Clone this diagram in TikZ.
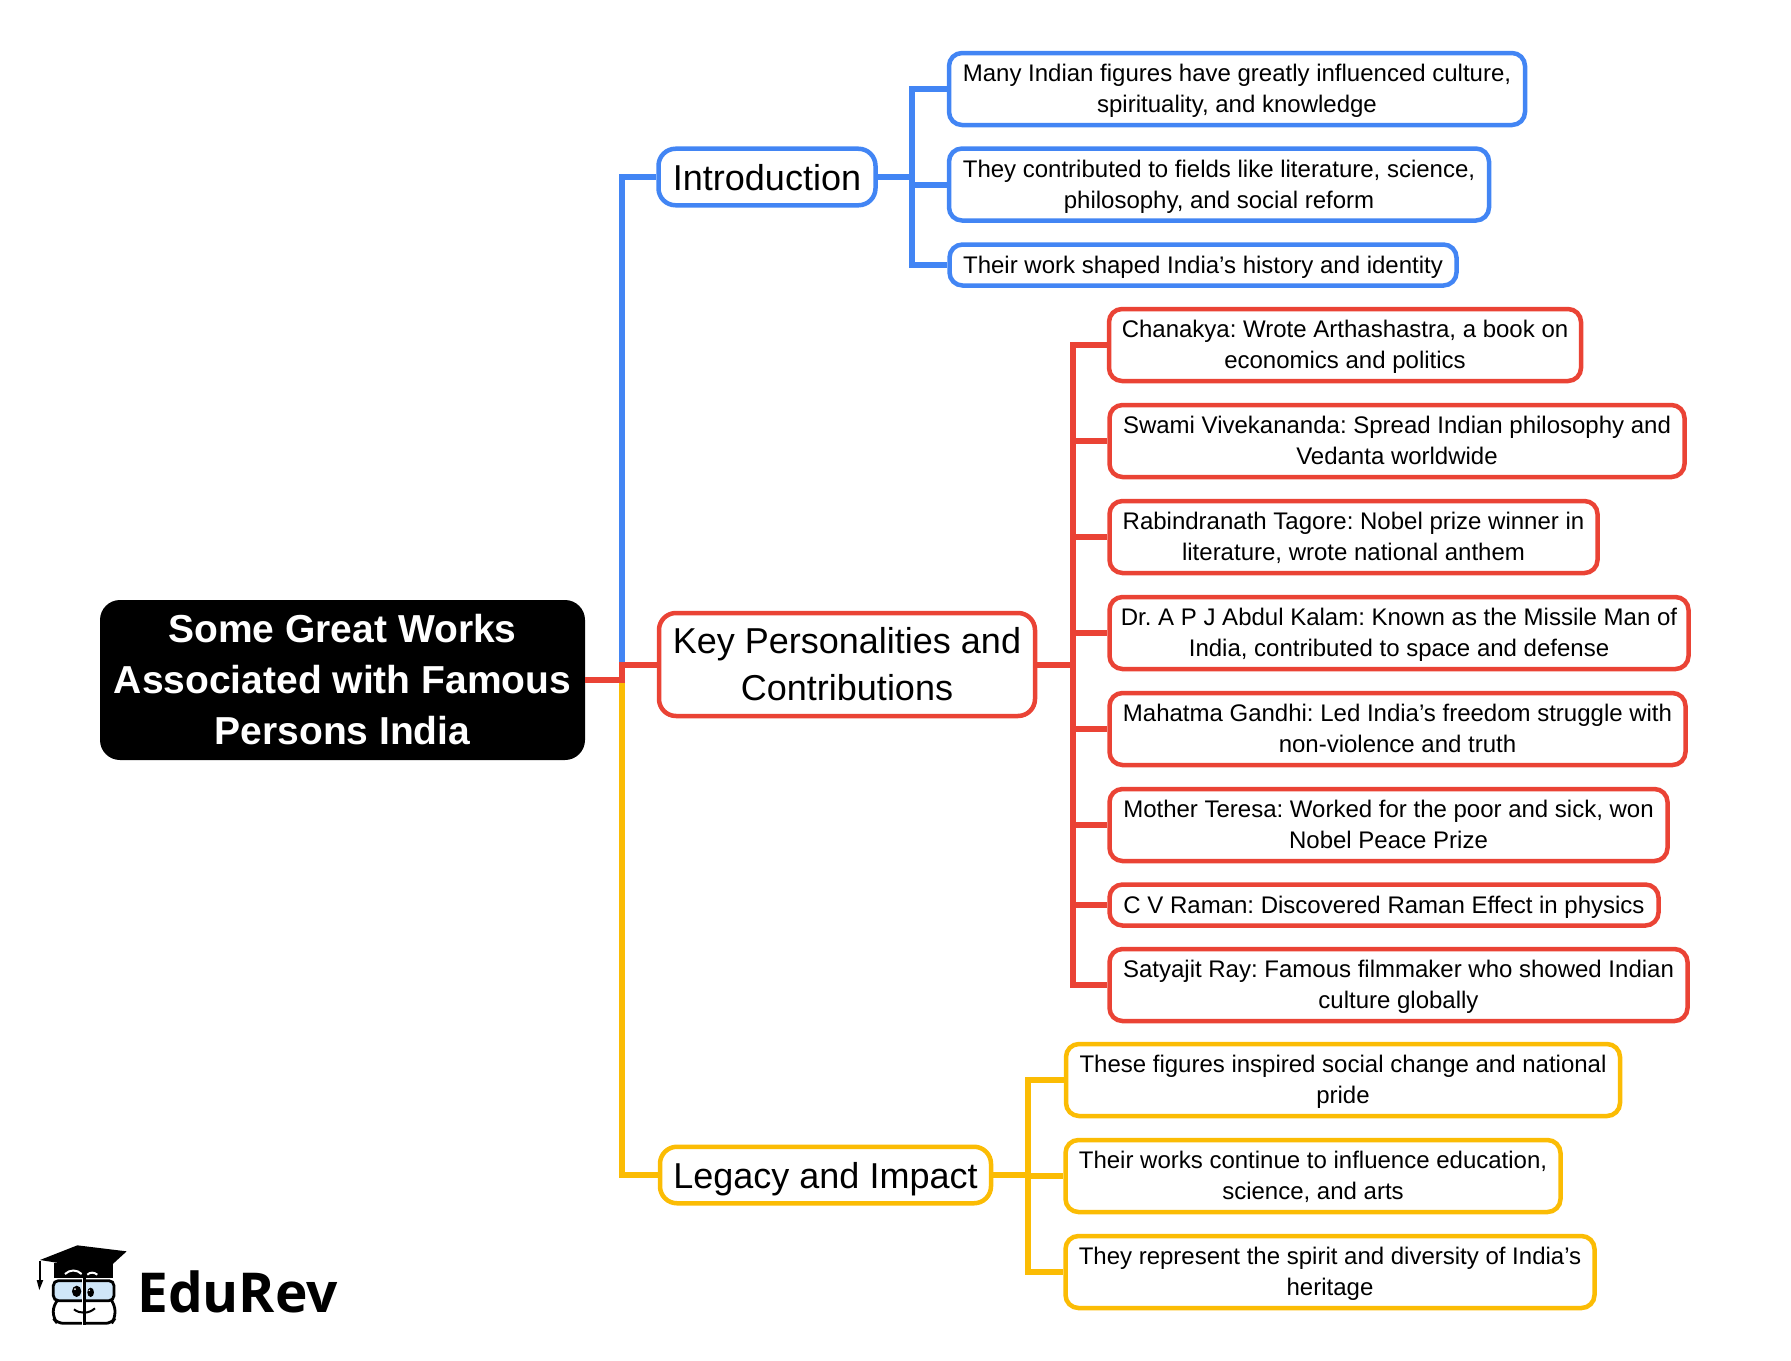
\documentclass[tikz,border=0pt]{standalone}
\usepackage{fontspec}
\setmainfont{Liberation Sans}
\newfontfamily\logofont{Open Sans}
\AtBeginDocument{\frenchspacing}
\definecolor{gblue}{HTML}{4285F4}
\definecolor{gred}{HTML}{EA4335}
\definecolor{gyellow}{HTML}{FBBC04}
\definecolor{glass}{HTML}{CFE6F8}
\newcommand{\topstrut}{\rule{0pt}{1.15em}}
\newcommand{\tl}{\rule{0pt}{1.1em}}
\newcommand{\botstrut}{\rule[-0.42em]{0pt}{0pt}}
\tikzset{
  strutted/.style={execute at begin node={\topstrut},execute at end node={\botstrut}},
  leaf/.style={strutted,draw=#1,line width=4.5pt,fill=white,rounded corners=13pt,align=center,inner sep=0pt,
    font=\fontsize{24pt}{31.2pt}\selectfont,text=black},
  head/.style={strutted,draw=#1,line width=4.5pt,fill=white,rounded corners=17pt,align=center,inner sep=0pt,
    font=\fontsize{36pt}{47pt}\selectfont,text=black},
  rootbox/.style={fill=black,rounded corners=20pt,align=center,inner sep=0pt,text=white,
    font=\fontsize{39pt}{51pt}\selectfont\bfseries},
  conn/.style={draw=#1,line width=6pt,line join=miter},
  logoline/.style={draw=black,line width=2.8pt,line cap=round}
}
\begin{document}
\begin{tikzpicture}[x=1pt,y=-1pt]
\useasboundingbox (0,0) rectangle (1791,1360);
\node[rootbox,minimum width=485pt,minimum height=160pt] (root) at (342.5,680) {Some Great Works\\Associated with Famous\\Persons India};
\node[head=gblue,minimum width=217pt,minimum height=56pt] (intro) at (767,177) {Introduction};
\node[head=gred,minimum width=376pt,minimum height=103pt] (key) at (847,664.5) {\tl Key Personalities and\\Contributions};
\node[head=gyellow,minimum width=331pt,minimum height=56pt] (legacy) at (825.5,1175) {Legacy and Impact};

\node[leaf=gblue,minimum width=576pt,minimum height=72pt] (b1) at (1237,89) {\tl Many Indian figures have greatly influenced culture,\\spirituality, and knowledge};
\node[leaf=gblue,minimum width=540pt,minimum height=72pt] (b2) at (1219,184.5) {\tl They contributed to fields like literature, science,\\philosophy, and social reform};
\node[leaf=gblue,minimum width=507pt,minimum height=41pt] (b3) at (1203,265) {Their work shaped India’s history and identity};

\node[leaf=gred,minimum width=472pt,minimum height=72pt] (r1) at (1345,345) {\tl Chanakya: Wrote Arthashastra, a book on\\economics and politics};
\node[leaf=gred,minimum width=575pt,minimum height=72pt] (r2) at (1397,441) {\tl Swami Vivekananda: Spread Indian philosophy and\\Vedanta worldwide};
\node[leaf=gred,minimum width=488pt,minimum height=72pt] (r3) at (1353.5,537) {\tl Rabindranath Tagore: Nobel prize winner in\\literature, wrote national anthem};
\node[leaf=gred,minimum width=579pt,minimum height=72pt] (r4) at (1399,633) {\tl Dr. A P J Abdul Kalam: Known as the Missile Man of\\India, contributed to space and defense};
\node[leaf=gred,minimum width=576pt,minimum height=72pt] (r5) at (1397.5,729) {\tl Mahatma Gandhi: Led India’s freedom struggle with\\non-violence and truth};
\node[leaf=gred,minimum width=558pt,minimum height=72pt] (r6) at (1388.5,825) {\tl Mother Teresa: Worked for the poor and sick, won\\Nobel Peace Prize};
\node[leaf=gred,minimum width=549pt,minimum height=41pt] (r7) at (1384,905) {C V Raman: Discovered Raman Effect in physics};
\node[leaf=gred,minimum width=578pt,minimum height=72pt] (r8) at (1398.5,985) {\tl Satyajit Ray: Famous filmmaker who showed Indian\\culture globally};

\node[leaf=gyellow,minimum width=554pt,minimum height=72pt] (y1) at (1343,1080) {\tl These figures inspired social change and national\\pride};
\node[leaf=gyellow,minimum width=495pt,minimum height=72pt] (y2) at (1313,1176) {\tl Their works continue to influence education,\\science, and arts};
\node[leaf=gyellow,minimum width=529pt,minimum height=72pt] (y3) at (1330,1272) {\tl They represent the spirit and diversity of India’s\\heritage};

\coordinate (j) at (622,680);
\coordinate (bt) at (912,177);
\coordinate (rt) at (1073,664.5);
\coordinate (yt) at (1028,1175);

\draw[conn=gblue] (j) |- (intro.west);
\draw[conn=gyellow] (j) |- (legacy.west);
\draw[conn=gred] (root.east) -- (j) |- (key.west);

\draw[conn=gblue] (intro.east) -- (bt);
\draw[conn=gblue] (bt) |- (b1.west);
\draw[conn=gblue] (bt) |- (b2.west);
\draw[conn=gblue] (bt) |- (b3.west);
\draw[conn=gred] (key.east) -- (rt);
\foreach \n in {r1,r2,r3,r4,r5,r6,r7,r8} \draw[conn=gred] (rt) |- (\n.west);
\draw[conn=gyellow] (legacy.east) -- (yt);
\foreach \n in {y1,y2,y3} \draw[conn=gyellow] (yt) |- (\n.west);

\begin{scope}[yshift=-1210pt,x=0.3333pt,y=-0.3333pt]
  \fill[black] (162,160) rectangle (340,205);
  \fill[black] (120,150) -- (232,106) -- (380,124) -- (310,188) -- (232,168) -- cycle;
  \draw[black,line width=2pt] (120,152) -- (120,210);
  \fill[black] (110,210) -- (130,210) -- (118,240) -- cycle;
  \draw[white,line width=2pt] (195,192) .. controls (210,178) and (230,178) .. (245,192);
  \draw[white,line width=2pt] (262,194) .. controls (270,186) and (282,186) .. (292,194);
  \draw[logoline,fill=glass,rounded corners=5pt] (160,212) rectangle (342,272);
  \draw[logoline,rounded corners=6pt] (245,340) -- (172,340) -- (160,325) -- (160,285) -- (172,272);
  \draw[logoline,rounded corners=6pt] (258,340) -- (335,340) -- (345,325) -- (345,285) -- (335,272);
  \fill[white] (246,204) rectangle (250,344);
  \fill[black] (250,204) rectangle (258,344);
  \fill[black] (230,244) ellipse [x radius=14,y radius=17];
  \fill[black] (272,247) ellipse [x radius=10,y radius=14];
  \fill[white] (225,237) circle (3);
  \fill[white] (268,241) circle (2.5);
  \draw[black,line width=2pt] (222,298) .. controls (240,312) and (265,312) .. (285,295);
\end{scope}
\node[inner sep=0pt,anchor=base west,font=\fontsize{55pt}{55pt}\logofont\bfseries,text=black] (brand) at (137,1312) {EduRev};
\end{tikzpicture}
\end{document}
